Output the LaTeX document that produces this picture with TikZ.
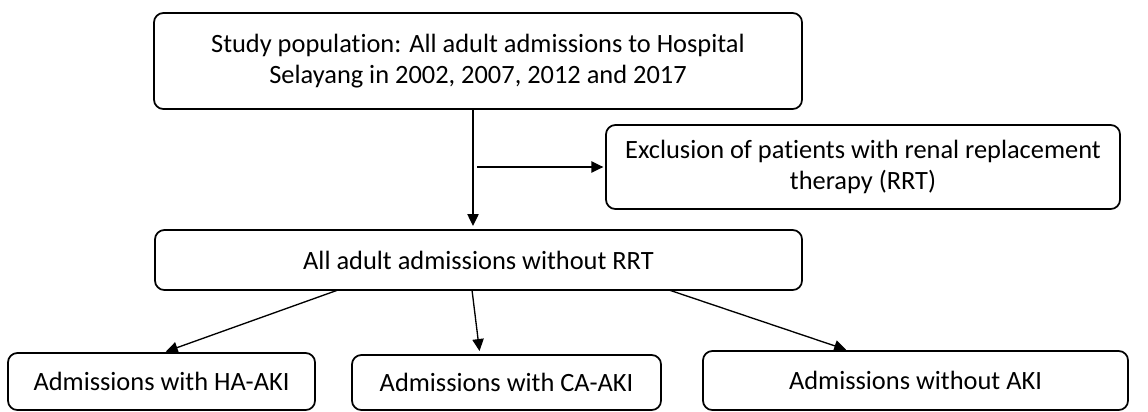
\documentclass[tikz,border=0pt]{standalone}
\usepackage{fontspec}
\setmainfont{Carlito}[Ligatures=NoCommon]
\usetikzlibrary{
  arrows.meta
}
\tikzset{
  % Shared values that are assigned to different keys in the styles below.
  globals/box line width/.initial=1.3pt,
  globals/arrow line width/.initial=1pt,
  globals/px/.initial=0.75pt,
%
  % Box size given in pixels of the original chart.
  box size/.style 2 args={
    minimum width=#1*\pgfkeysvalueof{/tikz/globals/px},
    minimum height=#2*\pgfkeysvalueof{/tikz/globals/px}},
%
  % For the rounded boxes of the flow chart.
  flow box/.style={
    draw,
    rounded corners=7pt,
    line width=\pgfkeysvalueof{/tikz/globals/box line width},
    align=center,
    inner sep=0pt,
    outer sep=0pt,
    font={\fontsize{19.8pt}{23pt}\selectfont}},
%
  % For connectors with one filled arrow.
  flow arrow/.style={
    line width=\pgfkeysvalueof{/tikz/globals/arrow line width},
    -{Triangle[length=9pt,width=8.5pt]},
    shorten >=3pt}
}

\begin{document}
\begin{tikzpicture}[x=0.75pt,y=-0.75pt]
  \useasboundingbox (0,0) rectangle (1148,411);

  \node[flow box, box size={648}{96}] (study) at (478,61)
    {Study population: All adult admissions to Hospital\\
     Selayang in 2002, 2007, 2012 and 2017};
  \node[flow box, box size={514}{84}] (exclusion) at (863,167)
    {Exclusion of patients with renal replacement\\
     therapy (RRT)};
  \node[flow box, box size={647}{60}] (all) at (478.5,260)
    {All adult admissions without RRT};

  \node[flow box, box size={307}{57}] (ha) at (161.5,381.5)
    {Admissions with HA-AKI};
  \node[flow box, box size={309}{55}] (ca) at (506.5,382.5)
    {Admissions with CA-AKI};
  \node[flow box, box size={425}{59}] (noaki) at (915.5,380.5)
    {Admissions without AKI};

  % Split point on the main line.
  \coordinate (split) at (477,167);

  \draw[flow arrow] (study.south -| 473,0) -- (all.north -| 473,0);
  \draw[flow arrow, shorten >=2pt] (split) -- (exclusion.west);

  \draw[flow arrow] (all.south -| 338,0) -- (ha.north -| 162,0);
  \draw[flow arrow] (all.south -| 472,0) -- (ca.north -| 480,0);
  \draw[flow arrow] (all.south -| 669,0) -- (noaki.north -| 850,0);
\end{tikzpicture}
\end{document}
